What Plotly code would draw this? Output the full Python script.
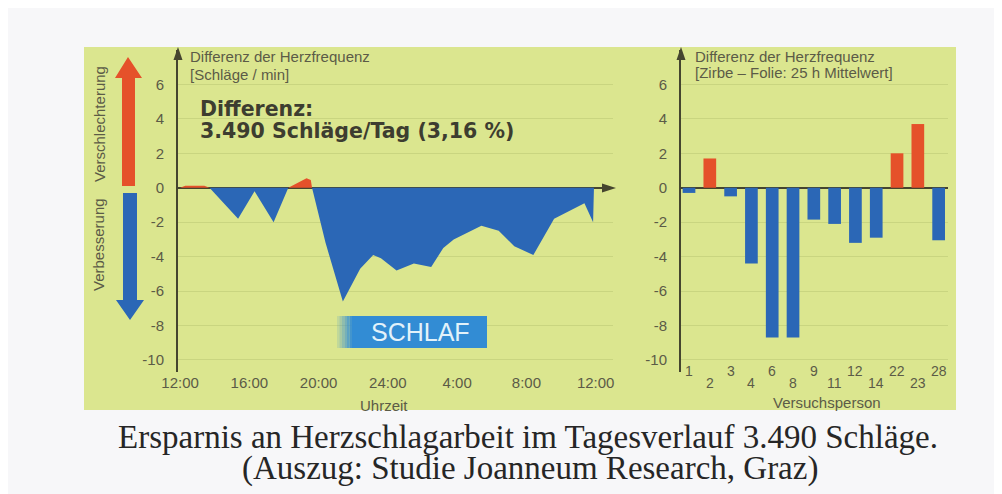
import plotly.graph_objects as go

# ---------------- data ----------------
# left chart: hours after 12:00 and difference of heart rate (beats/min)
hours = [0, 0.3, 1.4, 1.7, 3.35, 4.3, 5.4, 6.25, 7.3, 7.55, 7.62, 8.4, 9.4, 10.4,
         11.15, 11.6, 12.5, 13.5, 14.5, 15.2, 15.8, 17.4, 18.4, 19.3, 20.4, 21.6,
         23.35, 23.85, 23.9]
diff = [0, 0.12, 0.12, 0, -1.8, -0.2, -2.0, 0, 0.55, 0.45, 0, -3.2, -6.6, -4.7,
        -3.9, -4.1, -4.8, -4.4, -4.6, -3.5, -3.0, -2.2, -2.5, -3.4, -3.9, -1.8,
        -0.9, -2.0, 0]
time_ticks = [0, 4, 8, 12, 16, 20, 24]
time_labels = ["12:00", "16:00", "20:00", "24:00", "4:00", "8:00", "12:00"]

# right chart: test persons and mean difference
persons = ["1", "2", "3", "4", "6", "8", "9", "11", "12", "14", "22", "23", "28"]
person_diff = [-0.3, 1.7, -0.5, -4.4, -8.7, -8.7, -1.85, -2.1, -3.2, -2.9, 2.0, 3.7, -3.05]

y_ticks = [6, 4, 2, 0, -2, -4, -6, -8, -10]

# ---------------- style ----------------
W, H = 1002, 494
OFF = 8  # page body margin of the html page
BLUE = "#2b67b6"
RED = "#e5512a"
AXIS = "#45452f"
TXT = "#5b5b47"
PANEL = "#dbe68f"
SANS = "Liberation Sans, Arial, sans-serif"


def PX(x):
    return (x - OFF) / W


def PY(y):
    return 1 - (y - OFF) / H


def path(points):
    return "M " + " L ".join(f"{PX(x):.5f},{PY(y):.5f}" for x, y in points) + " Z"


neg = [min(v, 0) for v in diff]
pos = [max(v, 0) for v in diff]

fig = go.Figure()
fig.add_trace(go.Scatter(x=hours, y=neg, fill="tozeroy", mode="lines",
                         line=dict(width=0, color=BLUE), fillcolor=BLUE,
                         hoverinfo="skip", xaxis="x", yaxis="y"))
fig.add_trace(go.Scatter(x=hours, y=pos, fill="tozeroy", mode="lines",
                         line=dict(width=0, color=RED), fillcolor=RED,
                         hoverinfo="skip", xaxis="x", yaxis="y"))
fig.add_trace(go.Bar(x=persons, y=person_diff,
                     marker=dict(color=[RED if v > 0 else BLUE for v in person_diff],
                                 line=dict(width=0)),
                     xaxis="x2", yaxis="y2"))

ydom = [PY(372), PY(50)]
common_y = dict(range=[-10.7, 8.0], tickvals=y_ticks, ticktext=[str(v) for v in y_ticks],
                showline=True, linecolor=AXIS, linewidth=2, zeroline=True,
                zerolinecolor=AXIS, zerolinewidth=2, showgrid=True,
                gridcolor="rgba(120,140,60,0.18)", ticks="",
                tickfont=dict(family=SANS, size=15, color=TXT), ticklabelstandoff=9,
                domain=ydom, fixedrange=True, automargin=False)

fig.update_layout(
    width=W, height=H,
    margin=dict(l=0, r=0, t=0, b=0, pad=0, autoexpand=False),
    paper_bgcolor="#f7f7f9",
    plot_bgcolor="rgba(0,0,0,0)",
    showlegend=False,
    bargap=0.39,
    xaxis=dict(domain=[PX(178), PX(613)], range=[-0.12, 25.0], tickvals=time_ticks,
               ticktext=time_labels, showline=False, zeroline=False, showgrid=False,
               ticks="", tickfont=dict(family=SANS, size=15, color=TXT), automargin=False),
    yaxis=dict(anchor="x", **common_y),
    xaxis2=dict(domain=[PX(681), PX(948)], type="category", range=[-0.385, 12.45],
                showline=False, zeroline=False, showgrid=False, ticks="",
                showticklabels=False, automargin=False),
    yaxis2=dict(anchor="x2", **common_y),
)

shapes = [
    # yellow-green panel
    dict(type="rect", xref="paper", yref="paper", x0=PX(84), x1=PX(956), y0=PY(410), y1=PY(47),
         fillcolor=PANEL, line=dict(width=0), layer="below"),
    # legend arrows
    dict(type="path", xref="paper", yref="paper", layer="above",
         path=path([(122, 186), (122, 78), (115, 78), (128, 57), (142, 78), (135, 78), (135, 186)]),
         fillcolor=RED, line=dict(width=0)),
    dict(type="path", xref="paper", yref="paper", layer="above",
         path=path([(123, 193), (123, 300), (116, 300), (130, 320), (144, 300), (137, 300), (137, 193)]),
         fillcolor=BLUE, line=dict(width=0)),
    # axis arrowheads
    dict(type="path", xref="paper", yref="paper", layer="above",
         path=path([(173.5, 60), (178, 47), (182.5, 60)]), fillcolor=AXIS, line=dict(width=0)),
    dict(type="path", xref="paper", yref="paper", layer="above",
         path=path([(676.5, 60), (681, 47), (685.5, 60)]), fillcolor=AXIS, line=dict(width=0)),
    dict(type="path", xref="paper", yref="paper", layer="above",
         path=path([(602, 183.5), (616, 188), (602, 192.5)]), fillcolor=AXIS, line=dict(width=0)),
]
# SCHLAF box with faded left edge
for i, a in enumerate([0.15, 0.3, 0.45, 0.6, 0.75, 0.9]):
    x0 = 337 + i * 2.5
    shapes.append(dict(type="rect", xref="paper", yref="paper", x0=PX(x0), x1=PX(x0 + 2.5),
                       y0=PY(348), y1=PY(316), fillcolor=f"rgba(50,140,212,{a})",
                       line=dict(width=0), layer="above"))
shapes.append(dict(type="rect", xref="paper", yref="paper", x0=PX(352), x1=PX(487),
                   y0=PY(348), y1=PY(316), fillcolor="rgb(50,140,212)",
                   line=dict(width=0), layer="above"))
fig.update_layout(shapes=shapes)

ann = []


def text(x, y, t, size, color=TXT, family=SANS, xanchor="left", angle=0, xref="paper"):
    ann.append(dict(x=PX(x) if xref == "paper" else x, y=PY(y), xref=xref, yref="paper",
                    text=t, showarrow=False, xanchor=xanchor, yanchor="middle",
                    textangle=angle, font=dict(family=family, size=size, color=color)))


text(188, 56, "Differenz der Herzfrequenz", 15)
text(188, 74, "[Schläge / min]", 15)
text(693, 56, "Differenz der Herzfrequenz", 15)
text(693, 73, "[Zirbe – Folie: 25 h Mittelwert]", 15)
text(198, 109, "<b>Differenz:</b>", 20.5, color="#3d3d30", family="DejaVu Sans, sans-serif")
text(198, 131, "<b>3.490 Schläge/Tag (3,16 %)</b>", 20.5, color="#3d3d30",
     family="DejaVu Sans, sans-serif")
text(99, 245, "Verbesserung", 15, xanchor="center", angle=-90)
text(99, 124, "Verschlechterung", 15, xanchor="center", angle=-90)
text(420, 332, "SCHLAF", 25, color="#e2f2fa", xanchor="center")
text(384, 405, "Uhrzeit", 15, xanchor="center")
text(827, 402, "Versuchsperson", 15, xanchor="center")
# staggered category labels (category index on the category axis)
for i, p in enumerate(persons):
    text(i, 371 if i % 2 == 0 else 383, p, 14, xanchor="center", xref="x2")
text(528, 437, "Ersparnis an Herzschlagarbeit im Tagesverlauf 3.490 Schläge.", 33,
     color="#262626", family="Liberation Serif, Times New Roman, serif", xanchor="center")
text(530, 468, "(Auszug: Studie Joanneum Research, Graz)", 33,
     color="#262626", family="Liberation Serif, Times New Roman, serif", xanchor="center")
fig.update_layout(annotations=ann)

fig.write_html("out.html")
